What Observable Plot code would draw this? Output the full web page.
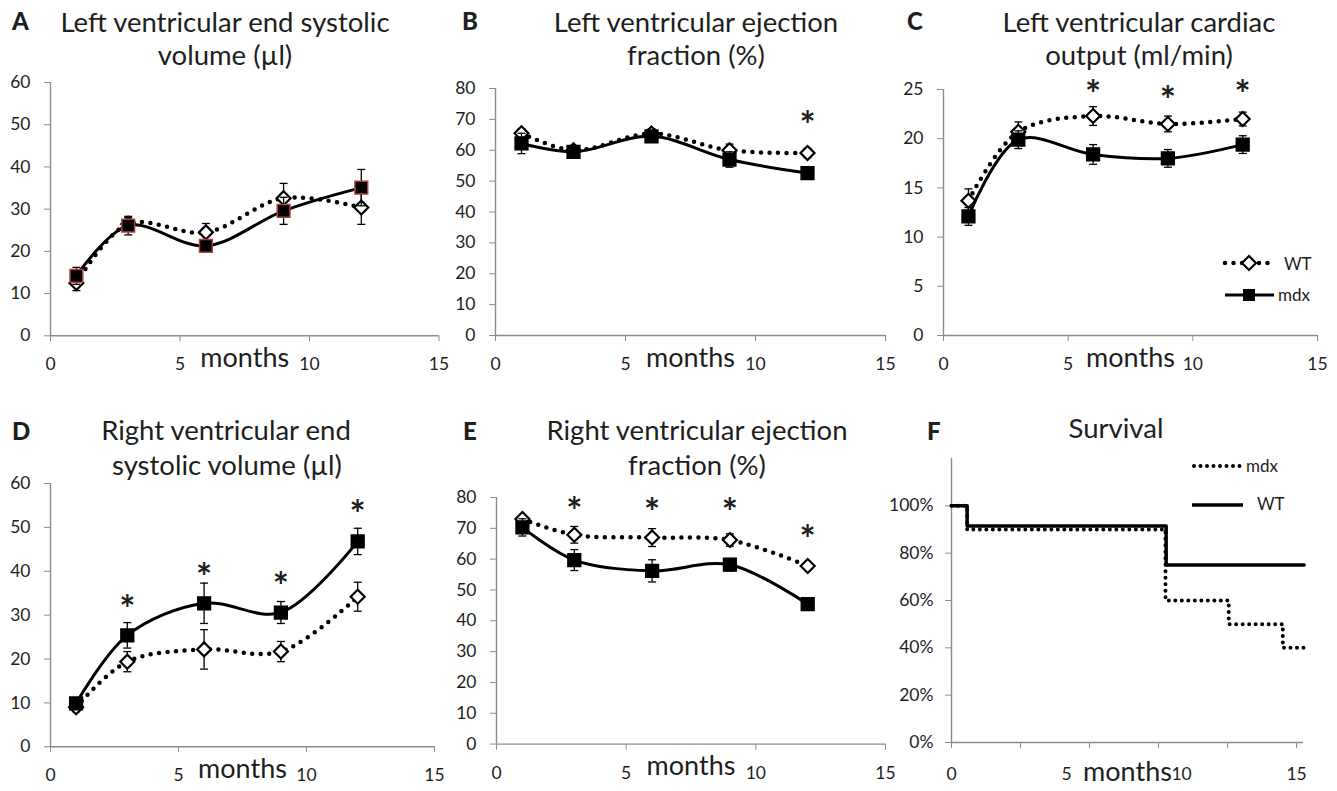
<!DOCTYPE html>
<html><head><meta charset="utf-8">
<script src="https://cdn.jsdelivr.net/npm/d3@7"></script>
<script src="https://cdn.jsdelivr.net/npm/@observablehq/plot@0.6"></script>
<style>
body{margin:0;background:#fff}
#root{position:relative;width:1337px;height:791px;overflow:hidden;background:#fff;font-family:Lato,"Open Sans",sans-serif}
#root > svg, #root > div{position:absolute}
</style>
</head><body><div id="root"></div>
<script>
// ---------- data ----------
const months = [1, 3, 6, 9, 12];

const lvesvWT = [12.5, 26.5, 24.5, 32.6, 30.4];
const lvesvWTerr = [1.8, 1.5, 2.1, 3.5, 4.0];
const lvesvMdx = [14.2, 26.1, 21.3, 29.6, 35.1];
const lvesvMdxErr = [2.0, 2.2, 1.0, 3.2, 4.3];

const lvefWT = [65.5, 60.0, 65.4, 60.0, 59.1];
const lvefWTerr = [1.5, 1.5, 1.5, 2.0, 1.5];
const lvefMdx = [62.2, 59.5, 64.5, 57.0, 52.6];
const lvefMdxErr = [3.3, 2.0, 1.5, 2.5, 1.5];

const lvcoWT = [13.7, 20.7, 22.3, 21.5, 22.0];
const lvcoWTerr = [1.2, 1.0, 0.95, 0.8, 0.7];
const lvcoMdx = [12.1, 19.9, 18.4, 18.0, 19.4];
const lvcoMdxErr = [0.9, 0.9, 1.0, 0.9, 0.9];

const rvesvWT = [9.0, 19.4, 22.2, 21.7, 34.2];
const rvesvWTerr = [1.0, 2.3, 4.5, 2.3, 3.3];
const rvesvMdx = [9.9, 25.4, 32.7, 30.6, 46.8];
const rvesvMdxErr = [1.0, 2.9, 4.6, 2.5, 3.0];

const rvefWT = [73.0, 67.9, 67.0, 66.2, 57.8];
const rvefWTerr = [1.0, 2.7, 2.9, 2.0, 1.0];
const rvefMdx = [70.3, 59.7, 56.2, 58.2, 45.4];
const rvefMdxErr = [2.8, 3.4, 3.6, 2.0, 1.0];

// significance asterisks (month, height)
const starsB = {x: [12], y: [70.8]};
const starsC = {x: [6, 9, 12], y: [25.4, 24.8, 25.4]};
const starsD = {x: [3, 6, 9, 12], y: [33.3, 40.5, 38.4, 54.9]};
const starsE = {x: [3, 6, 9, 12], y: [78.4, 78.0, 78.0, 69.2]};

// survival (Kaplan-Meier steps)
const survWTtime = [0, 0.68, 9.33, 15.33];
const survWTvalue = [1.0, 0.915, 0.75, 0.75];
const survMdxTime = [0, 0.68, 9.3, 12.05, 14.4, 15.33];
const survMdxValue = [1.0, 0.90, 0.60, 0.50, 0.40, 0.40];

const ticks60 = [0, 10, 20, 30, 40, 50, 60];
const ticks80 = [0, 10, 20, 30, 40, 50, 60, 70, 80];
const ticks25 = [0, 5, 10, 15, 20, 25];
const ticksPct = [0, 0.2, 0.4, 0.6, 0.8, 1.0];
const xTicks = [0, 5, 10, 15];
const xTicksF = [0, 3, 6, 9, 12, 15];
const xLabel = "months";

// ---------- helpers ----------
const FONT = "Lato, 'Open Sans', sans-serif";
const GRAY = "#8c8c8c", INK = "#1e1e1e";
const root = document.getElementById("root");

function series(vals, errs) {
  return months.map((m, i) => ({month: m, value: vals[i], lo: vals[i] - errs[i], hi: vals[i] + errs[i]}));
}
function stars(s) { return s.x.map((x, i) => ({month: x, y: s.y[i]})); }
const capSymbol = {draw(ctx, size) { const w = Math.sqrt(size) / 2; ctx.moveTo(-w, 0); ctx.lineTo(w, 0); }};

const ML = 60, MR = 20, MT = 50, MB = 55;

function place(svg, fx0, ftop) {
  svg.style.left = (fx0 - ML) + "px";
  svg.style.top = (ftop - MT) + "px";
  root.appendChild(svg);
}

function errMarks(data) {
  return [
    Plot.ruleX(data, {x: "month", y1: "lo", y2: "hi", stroke: "black", strokeWidth: 1.3}),
    Plot.dot(data, {x: "month", y: "lo", symbol: capSymbol, r: 4.5, stroke: "black", strokeWidth: 1.3}),
    Plot.dot(data, {x: "month", y: "hi", symbol: capSymbol, r: 4.5, stroke: "black", strokeWidth: 1.3})
  ];
}

function panel(cfg) {
  const wt = series(cfg.wt, cfg.wtErr), mdx = series(cfg.mdx, cfg.mdxErr);
  const fw = cfg.fx1 - cfg.fx0, fh = cfg.fbot - cfg.ftop;
  const svg = Plot.plot({
    width: fw + ML + MR, height: fh + MT + MB,
    marginLeft: ML, marginRight: MR, marginTop: MT, marginBottom: MB,
    x: {domain: [0, 15]},
    y: {domain: [0, cfg.yMax]},
    style: {fontFamily: FONT, fontSize: "17.5px", color: INK, background: "transparent", overflow: "visible"},
    marks: [
      Plot.ruleY([0], {stroke: GRAY, strokeWidth: 1.4}),
      Plot.ruleX([0], {stroke: GRAY, strokeWidth: 1.4}),
      Plot.axisY({ticks: cfg.yTicks, tickSize: 6, tickPadding: 14, stroke: GRAY, fill: INK, label: null}),
      Plot.axisX({ticks: xTicks, tickSize: 6, tickPadding: 16, stroke: GRAY, fill: INK, label: null}),
      Plot.text([xLabel], {frameAnchor: "bottom", dy: 31, fontSize: 27, fill: INK}),
      Plot.line(wt, {x: "month", y: "value", curve: "catmull-rom", stroke: "black", strokeWidth: 4.5, strokeDasharray: "0 8.5", strokeLinecap: "round"}),
      ...errMarks(wt),
      Plot.dot(wt, {x: "month", y: "value", symbol: "diamond2", r: 6.3, fill: "white", stroke: "black", strokeWidth: 2.2}),
      Plot.line(mdx, {x: "month", y: "value", curve: "catmull-rom", stroke: "black", strokeWidth: 3}),
      ...errMarks(mdx),
      Plot.dot(mdx, {x: "month", y: "value", symbol: "square", r: 7.2, fill: "black", stroke: cfg.red ? "#a8423f" : "black", strokeWidth: 1.5}),
      cfg.stars ? Plot.text(stars(cfg.stars), {x: "month", y: "y", text: () => "*", fontSize: 38, fontWeight: 700, dy: 10, fill: INK}) : null
    ]
  });
  place(svg, cfg.fx0, cfg.ftop);
}

panel({wt: lvesvWT, wtErr: lvesvWTerr, mdx: lvesvMdx, mdxErr: lvesvMdxErr, yMax: 60, yTicks: ticks60, red: true,
       fx0: 49.5, fx1: 438, ftop: 81.7, fbot: 335});
panel({wt: lvefWT, wtErr: lvefWTerr, mdx: lvefMdx, mdxErr: lvefMdxErr, yMax: 80, yTicks: ticks80, stars: starsB,
       fx0: 495, fx1: 885, ftop: 88, fbot: 335});
panel({wt: lvcoWT, wtErr: lvcoWTerr, mdx: lvcoMdx, mdxErr: lvcoMdxErr, yMax: 25, yTicks: ticks25, stars: starsC,
       fx0: 942.7, fx1: 1316.7, ftop: 89, fbot: 335});
panel({wt: rvesvWT, wtErr: rvesvWTerr, mdx: rvesvMdx, mdxErr: rvesvMdxErr, yMax: 60, yTicks: ticks60, stars: starsD,
       fx0: 50, fx1: 434, ftop: 482.7, fbot: 746});
panel({wt: rvefWT, wtErr: rvefWTerr, mdx: rvefMdx, mdxErr: rvefMdxErr, yMax: 80, yTicks: ticks80, stars: starsE,
       fx0: 496, fx1: 885, ftop: 496.7, fbot: 743.3});

// survival panel
(function () {
  const wt = survWTtime.map((t, i) => ({t, v: survWTvalue[i]}));
  const mdx = survMdxTime.map((t, i) => ({t, v: survMdxValue[i]}));
  const fx0 = 951, fx1 = 1303, ftop = 457.7, fbot = 741.7;
  const svg = Plot.plot({
    width: fx1 - fx0 + ML + MR, height: fbot - ftop + MT + MB,
    marginLeft: ML, marginRight: MR, marginTop: MT, marginBottom: MB,
    x: {domain: [0, 15.3]},
    y: {domain: [0, 1.2]},
    style: {fontFamily: FONT, fontSize: "17.5px", color: INK, background: "transparent", overflow: "visible"},
    marks: [
      Plot.ruleY([0], {stroke: GRAY, strokeWidth: 1.4}),
      Plot.ruleX([0], {stroke: GRAY, strokeWidth: 1.4}),
      Plot.axisY({ticks: ticksPct, tickFormat: d3.format(".0%"), tickSize: 6, tickPadding: 12, stroke: GRAY, fill: INK, label: null}),
      Plot.axisX({ticks: xTicksF, tickFormat: () => "", tickSize: 6, stroke: GRAY, label: null}),
      Plot.axisX({ticks: xTicks, tickSize: 0, tickPadding: 25, fill: INK, label: null}),
      Plot.text([xLabel], {frameAnchor: "bottom", dy: 38, fontSize: 27, fill: INK}),
      Plot.line(mdx, {x: "t", y: "v", curve: "step-after", stroke: "black", strokeWidth: 4, strokeDasharray: "0 6.5", strokeLinecap: "round"}),
      Plot.line(wt, {x: "t", y: "v", curve: "step-after", stroke: "black", strokeWidth: 3.5})
    ]
  });
  place(svg, fx0, ftop);
})();

// ---------- titles, panel letters, legends ----------
const titles = [
  ["Left ventricular end systolic", 225, 32], ["volume (µl)", 225, 65],
  ["Left ventricular ejection", 696, 32], ["fraction (%)", 696, 65],
  ["Left ventricular cardiac", 1139, 32], ["output (ml/min)", 1139, 65],
  ["Right ventricular end", 226, 440], ["systolic volume (µl)", 227, 475],
  ["Right ventricular ejection", 697, 440], ["fraction (%)", 697, 475],
  ["Survival", 1116, 438]
];
const letters = [["A", 12, 30], ["B", 462, 30], ["C", 907, 30], ["D", 12, 440], ["E", 463, 440], ["F", 927, 440]];

const ov = d3.select(root).append("svg").attr("width", 1337).attr("height", 791)
  .style("left", "0px").style("top", "0px").style("pointer-events", "none")
  .style("font-family", FONT);
ov.selectAll("text.title").data(titles).join("text").attr("class", "title")
  .attr("x", d => d[1]).attr("y", d => d[2]).attr("text-anchor", "middle")
  .attr("font-size", 27.5).attr("fill", INK).text(d => d[0]);
ov.selectAll("text.letter").data(letters).join("text").attr("class", "letter")
  .attr("x", d => d[1]).attr("y", d => d[2]).attr("font-size", 24).attr("font-weight", 900)
  .attr("fill", INK).text(d => d[0]);

// legend C
const lc = ov.append("g");
lc.append("line").attr("x1", 1225).attr("x2", 1268).attr("y1", 263).attr("y2", 263)
  .attr("stroke", "black").attr("stroke-width", 4.5).attr("stroke-dasharray", "0 8.5").attr("stroke-linecap", "round");
lc.append("path").attr("d", d3.symbol(d3.symbolDiamond2, Math.PI * 6.3 * 6.3)()).attr("transform", "translate(1249,263)")
  .attr("fill", "white").attr("stroke", "black").attr("stroke-width", 2.2);
lc.append("text").attr("x", 1284).attr("y", 270).attr("font-size", 17).attr("fill", INK).text("WT");
lc.append("line").attr("x1", 1225).attr("x2", 1274).attr("y1", 295).attr("y2", 295).attr("stroke", "black").attr("stroke-width", 3);
lc.append("rect").attr("x", 1243).attr("y", 289).attr("width", 12).attr("height", 12).attr("fill", "black");
lc.append("text").attr("x", 1278).attr("y", 301).attr("font-size", 17).attr("fill", INK).text("mdx");

// legend F
const lf = ov.append("g");
lf.append("line").attr("x1", 1194).attr("x2", 1240).attr("y1", 466).attr("y2", 466)
  .attr("stroke", "black").attr("stroke-width", 4).attr("stroke-dasharray", "0 6.5").attr("stroke-linecap", "round");
lf.append("text").attr("x", 1246).attr("y", 472).attr("font-size", 17).attr("fill", INK).text("mdx");
lf.append("line").attr("x1", 1192).attr("x2", 1243).attr("y1", 505).attr("y2", 505).attr("stroke", "black").attr("stroke-width", 3.5);
lf.append("text").attr("x", 1257).attr("y", 510).attr("font-size", 17).attr("fill", INK).text("WT");
</script>
</body></html>
